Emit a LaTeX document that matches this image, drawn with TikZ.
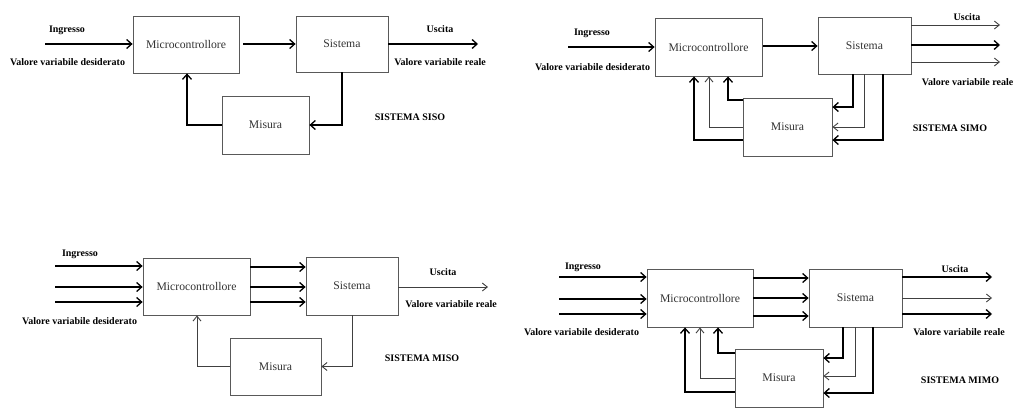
\documentclass[tikz,border=0pt]{standalone}
\usepackage{fontspec}
\setmainfont{Liberation Serif}
\usetikzlibrary{arrows.meta}
\begin{document}
\begin{tikzpicture}[x=1pt,y=-1pt,
 blk/.style={draw=black!65, line width=0.8pt, inner sep=0pt, font=\fontsize{11.7}{14}\selectfont, text=black!80},
 conn/.style={line width=1.3pt, -{Straight Barb[length=5pt,width=9pt,line width=1.3pt]}},
 lite/.style={line width=0.9pt, draw=black!75, -{Straight Barb[length=5pt,width=8pt,line width=0.9pt]}},
 lbl/.style={font=\fontsize{10}{12}\selectfont\bfseries, inner sep=0pt},
]
\useasboundingbox (0,0) rectangle (1016,408);

% ===================== SISO =====================
\node[blk, minimum width=106pt, minimum height=57pt] (m1) at (186,44.5) {Microcontrollore};
\node[blk, minimum width=92pt, minimum height=56pt] (s1) at (342,44) {Sistema};
\node[blk, minimum width=87pt, minimum height=58pt] (k1) at (265.5,125) {Misura};
\coordinate (i1) at (45,44);
\coordinate (o1) at (478,44);
\draw[conn] (i1) -- (m1.west |- i1);
\draw[conn, shorten <=4pt] (m1.east |- i1) -- (s1.west |- i1);
\draw[conn] (s1.east |- o1) -- (o1);
\draw[conn] (s1.south) |- (k1.east);
\draw[conn] (k1.west) -| (187,0 |- m1.south);
\node[lbl] (t1a) at (67,30) {Ingresso};
\node[lbl] (t1b) at (67.5,62) {Valore variabile desiderato};
\node[lbl] (t1c) at (440,29) {Uscita};
\node[lbl] (t1d) at (440,62) {Valore variabile reale};
\node[lbl] (t1e) at (410,117) {SISTEMA SISO};

% ===================== SIMO =====================
\node[blk, minimum width=107pt, minimum height=58pt] (m2) at (708.5,47) {Microcontrollore};
\node[blk, minimum width=93pt, minimum height=57pt] (s2) at (864.5,45.5) {Sistema};
\node[blk, minimum width=89pt, minimum height=58pt] (k2) at (787.5,127) {Misura};
\coordinate (i2) at (568,47);
\coordinate (o2a) at (1000,25);
\coordinate (o2b) at (1000,45);
\coordinate (o2c) at (1000,62);
\draw[conn] (i2) -- (m2.west |- i2);
\draw[conn, shorten <=1pt] (m2.east |- 0,46) -- (s2.west |- 0,46);
\draw[lite] (s2.east |- o2a) -- (o2a);
\draw[conn] (s2.east |- o2b) -- (o2b);
\draw[lite] (s2.east |- o2c) -- (o2c);
\draw[conn] (853,0 |- s2.south) |- (k2.east |- 0,107);
\draw[lite] (864,0 |- s2.south) |- (k2.east |- 0,127);
\draw[conn] (883,0 |- s2.south) |- (k2.east |- 0,140);
\draw[conn] (k2.west |- 0,100) -| (728,0 |- m2.south);
\draw[lite] (k2.west |- 0,127) -| (709,0 |- m2.south);
\draw[conn] (k2.west |- 0,140) -| (694,0 |- m2.south);
\node[lbl] (t2a) at (592,33) {Ingresso};
\node[lbl] (t2b) at (592.5,67) {Valore variabile desiderato};
\node[lbl] (t2c) at (967,17) {Uscita};
\node[lbl] (t2d) at (967.5,82) {Valore variabile reale};
\node[lbl] (t2e) at (950,128) {SISTEMA SIMO};

% ===================== MISO =====================
\node[blk, minimum width=107pt, minimum height=57pt] (m3) at (196.5,286.5) {Microcontrollore};
\node[blk, minimum width=92pt, minimum height=58pt] (s3) at (352,286) {Sistema};
\node[blk, minimum width=91pt, minimum height=57pt] (k3) at (275.5,366.5) {Misura};
\coordinate (i3a) at (55,266);
\coordinate (i3b) at (55,287);
\coordinate (i3c) at (55,302);
\coordinate (o3) at (488,287);
\draw[conn] (i3a) -- (m3.west |- i3a);
\draw[conn] (i3b) -- (m3.west |- i3b);
\draw[conn] (i3c) -- (m3.west |- i3c);
\draw[conn] (m3.east |- 0,267) -- (s3.west |- 0,267);
\draw[conn] (m3.east |- 0,287) -- (s3.west |- 0,287);
\draw[conn] (m3.east |- 0,302) -- (s3.west |- 0,302);
\draw[lite] (s3.east |- o3) -- (o3);
\draw[lite] (s3.south) |- (k3.east);
\draw[lite] (k3.west) -| (197,0 |- m3.south);
\node[lbl] (t3a) at (80,254) {Ingresso};
\node[lbl] (t3b) at (79.5,321) {Valore variabile desiderato};
\node[lbl] (t3c) at (443,272) {Uscita};
\node[lbl] (t3d) at (451,304) {Valore variabile reale};
\node[lbl] (t3e) at (422,358) {SISTEMA MISO};

% ===================== MIMO =====================
\node[blk, minimum width=106pt, minimum height=58pt] (m4) at (700,298) {Microcontrollore};
\node[blk, minimum width=93pt, minimum height=58pt] (s4) at (855.5,298) {Sistema};
\node[blk, minimum width=88pt, minimum height=58pt] (k4) at (779,378) {Misura};
\coordinate (i4a) at (559,277);
\coordinate (i4b) at (559,299);
\coordinate (i4c) at (559,314);
\coordinate (o4a) at (992,277);
\coordinate (o4b) at (992,298);
\coordinate (o4c) at (992,314);
\draw[conn] (i4a) -- (m4.west |- i4a);
\draw[conn] (i4b) -- (m4.west |- i4b);
\draw[conn] (i4c) -- (m4.west |- i4c);
\draw[conn] (m4.east |- 0,278) -- (s4.west |- 0,278);
\draw[conn] (m4.east |- 0,298) -- (s4.west |- 0,298);
\draw[conn] (m4.east |- 0,316) -- (s4.west |- 0,316);
\draw[conn] (s4.east |- o4a) -- (o4a);
\draw[lite] (s4.east |- o4b) -- (o4b);
\draw[conn] (s4.east |- o4c) -- (o4c);
\draw[conn] (843,0 |- s4.south) |- (k4.east |- 0,358);
\draw[lite] (855,0 |- s4.south) |- (k4.east |- 0,376);
\draw[conn] (873,0 |- s4.south) |- (k4.east |- 0,393);
\draw[conn] (k4.west |- 0,353) -| (718,0 |- m4.south);
\draw[lite] (k4.west |- 0,378) -| (700,0 |- m4.south);
\draw[conn] (k4.west |- 0,392) -| (685,0 |- m4.south);
\node[lbl] (t4a) at (583,267) {Ingresso};
\node[lbl] (t4b) at (581.5,332) {Valore variabile desiderato};
\node[lbl] (t4c) at (955,269) {Uscita};
\node[lbl] (t4d) at (959,332) {Valore variabile reale};
\node[lbl] (t4e) at (960,380) {SISTEMA MIMO};
\end{tikzpicture}
\end{document}
